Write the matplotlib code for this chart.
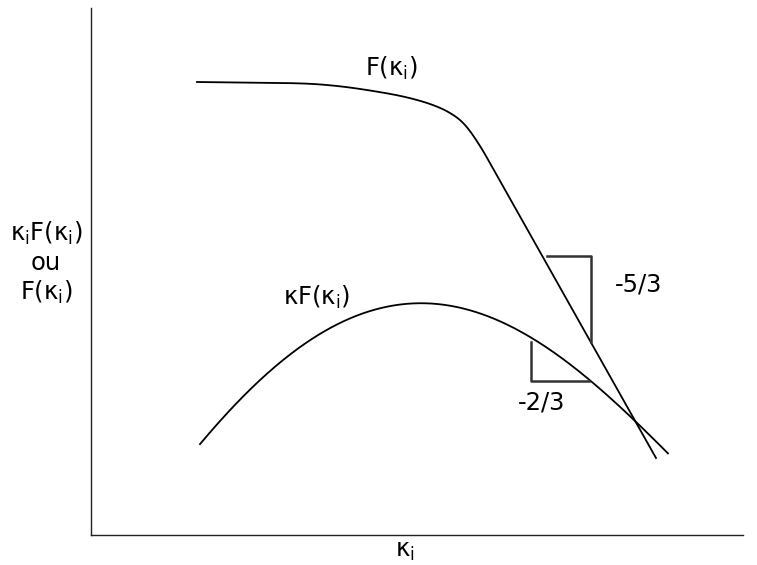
import numpy as np
import matplotlib
matplotlib.use("Agg")
import matplotlib.pyplot as plt

plt.rcParams['mathtext.fontset'] = 'dejavusans'

# Curve F(k): read points (schematic, pixel-like coordinates)
f_x = [197, 250, 303, 337, 370, 403, 430, 450, 465, 480, 495, 656]
f_y = [82, 82.6, 83.5, 86, 90.5, 96.5, 104, 113, 125, 146, 172, 458]

# Curve kF(k)
kf_x = [200, 240, 280, 326, 370, 420, 460, 500, 540, 589, 634, 668]
kf_y = [444, 400, 362, 331, 311, 303, 307, 321, 345, 379, 419, 454]

# slope triangles
tri53_x = [547, 591, 591]
tri53_y = [256, 256, 342]
tri23_x = [531, 531, 589]
tri23_y = [342, 381, 381]


def catmull(xs, ys, n=40):
    P = np.column_stack([np.asarray(xs, float), np.asarray(ys, float)])
    P = np.vstack([2 * P[0] - P[1], P, 2 * P[-1] - P[-2]])
    out = []
    for i in range(1, len(P) - 2):
        p0, p1, p2, p3 = P[i - 1], P[i], P[i + 1], P[i + 2]
        t = np.linspace(0, 1, n)[:, None]
        pts = 0.5 * ((2 * p1) + (-p0 + p2) * t + (2 * p0 - 5 * p1 + 4 * p2 - p3) * t ** 2
                     + (-p0 + 3 * p1 - 3 * p2 + p3) * t ** 3)
        out.append(pts)
    out = np.vstack(out)
    return out[:, 0], out[:, 1]


fig = plt.figure(figsize=(7.57, 5.65), dpi=100)
ax = fig.add_axes([91 / 757, 30 / 565, 652 / 757, 527 / 565])
ax.set_xlim(91, 743)
ax.set_ylim(535, 8)
for s in ['top', 'right']:
    ax.spines[s].set_visible(False)
for s in ['left', 'bottom']:
    ax.spines[s].set_linewidth(1.0)
    ax.spines[s].set_color('#222222')
ax.set_xticks([])
ax.set_yticks([])

fx, fy = catmull(f_x[:-1], f_y[:-1])
fx = np.append(fx, f_x[-1])
fy = np.append(fy, f_y[-1])
ax.plot(fx, fy, color='black', lw=1.3)

coef = np.polyfit(kf_x, kf_y, 4)
kx = np.linspace(kf_x[0], kf_x[-1], 300)
ax.plot(kx, np.polyval(coef, kx), color='black', lw=1.3)

ax.plot(tri53_x, tri53_y, color='#333333', lw=1.8)
ax.plot(tri23_x, tri23_y, color='#333333', lw=1.8)

fs = 17.5
ax.text(391, 68, r'F(κ$_{\mathrm{i}}$)', fontsize=fs, ha='center', va='center')
ax.text(317, 297, r'κF(κ$_{\mathrm{i}}$)', fontsize=fs, ha='center', va='center')
ax.text(639, 284, '-5/3', fontsize=fs, ha='center', va='center')
ax.text(542, 403, '-2/3', fontsize=fs, ha='center', va='center')
fig.text(46 / 757, 1 - 263 / 565, 'κ$_{\\mathrm{i}}$F(κ$_{\\mathrm{i}}$)\nou\nF(κ$_{\\mathrm{i}}$)',
         fontsize=fs, ha='center', va='center', linespacing=1.2)
fig.text(405 / 757, 1 - 551 / 565, r'κ$_{\mathrm{i}}$', fontsize=fs, ha='center', va='center')

fig.savefig('out.png', dpi=100)
